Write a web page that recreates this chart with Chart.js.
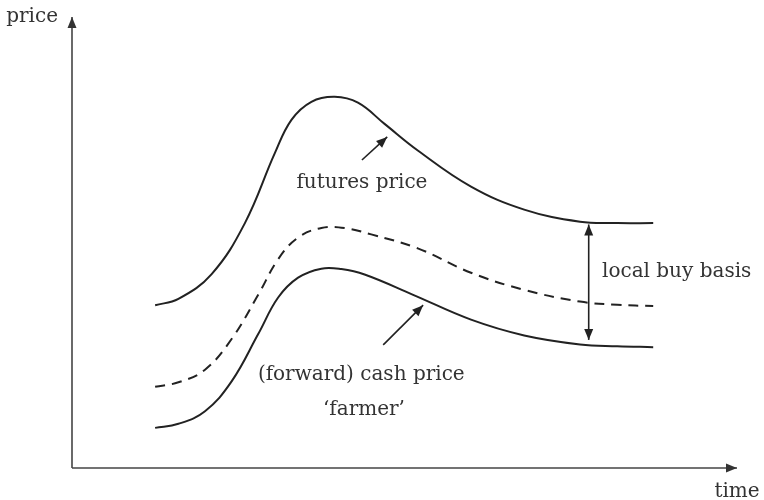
<!DOCTYPE html>
<html>
<head>
<meta charset="utf-8">
<script src="https://cdn.jsdelivr.net/npm/chart.js@4"></script>
<style>
  html, body { margin: 0; padding: 0; background: #ffffff; }
  #wrap { width: 764px; height: 500px; }
</style>
</head>
<body>
<div id="wrap"><canvas id="basisChart" width="764" height="500"></canvas></div>
<script>
// values (time and price in arbitrary units, 0-100)
const futuresTime  = [12.5, 16.0, 21.0, 26.0, 30.5, 33.0, 36.0, 39.5, 43.0, 47.0, 52.0, 60.0, 68.0, 76.4, 82.0, 87.4];
const futuresPrice = [36.1, 37.5, 43.0, 54.3, 69.8, 77.2, 81.2, 82.3, 81.0, 76.3, 70.4, 62.4, 57.3, 54.6, 54.3, 54.3];

const midTime  = [12.5, 16.0, 20.0, 24.0, 28.0, 31.0, 34.0, 37.5, 41.0, 45.0, 52.0, 60.0, 68.0, 76.4, 82.0, 87.4];
const midPrice = [18.0, 19.0, 21.8, 28.6, 38.4, 46.3, 51.1, 53.2, 53.2, 51.8, 48.7, 43.3, 39.5, 36.9, 36.2, 35.9];

const cashTime  = [12.5, 16.0, 20.0, 24.0, 28.0, 31.0, 34.0, 37.5, 40.5, 44.0, 51.3, 60.0, 68.0, 76.4, 82.0, 87.4];
const cashPrice = [8.9, 9.8, 12.6, 19.2, 29.7, 37.8, 42.2, 44.2, 44.1, 42.9, 38.4, 32.9, 29.4, 27.4, 27.0, 26.8];

const axisLabels = ['price', 'time'];
const notes = ['futures price', 'local buy basis', '(forward) cash price', '\u2018farmer\u2019'];

const INK = '#222222';
const TEXT = '#333333';
const FONT = '20px "DejaVu Serif", serif';

function toPoints(xs, ys) {
    return xs.map((x, i) => ({ x: x, y: ys[i] }));
}

function arrowHead(ctx, fromX, fromY, toX, toY) {
    const ang = Math.atan2(toY - fromY, toX - fromX);
    const len = 11, half = 4.5;
    ctx.beginPath();
    ctx.moveTo(toX, toY);
    ctx.lineTo(toX - len * Math.cos(ang) + half * Math.sin(ang), toY - len * Math.sin(ang) - half * Math.cos(ang));
    ctx.lineTo(toX - len * Math.cos(ang) - half * Math.sin(ang), toY - len * Math.sin(ang) + half * Math.cos(ang));
    ctx.closePath();
    ctx.fill();
}

function arrow(ctx, x1, y1, x2, y2, both) {
    ctx.beginPath();
    ctx.moveTo(x1, y1);
    ctx.lineTo(x2, y2);
    ctx.stroke();
    arrowHead(ctx, x1, y1, x2, y2);
    if (both) arrowHead(ctx, x2, y2, x1, y1);
}

const sketchPlugin = {
    id: 'sketchNotes',
    afterDatasetsDraw(chart) {
        const ctx = chart.ctx;
        const area = chart.chartArea;
        const xs = chart.scales.x, ys = chart.scales.y;
        const px = v => xs.getPixelForValue(v);
        const py = v => ys.getPixelForValue(v);

        ctx.save();
        // axes
        ctx.strokeStyle = '#444444';
        ctx.fillStyle = '#333333';
        ctx.lineWidth = 1.6;
        arrow(ctx, area.left, area.bottom, area.left, area.top, false);
        arrow(ctx, area.left, area.bottom, area.right, area.bottom, false);

        ctx.font = FONT;
        ctx.fillStyle = TEXT;
        ctx.textBaseline = 'middle';
        ctx.textAlign = 'right';
        ctx.fillText(axisLabels[0], area.left - 14, area.top);
        ctx.textAlign = 'center';
        ctx.fillText(axisLabels[1], area.right, area.bottom + 24);

        // annotation arrows
        ctx.strokeStyle = INK;
        ctx.fillStyle = INK;
        ctx.lineWidth = 1.6;
        arrow(ctx, px(43.6), py(68.3), px(47.4), py(73.4), false);
        arrow(ctx, px(46.8), py(27.3), px(52.8), py(36.1), false);
        arrow(ctx, px(77.7), py(54.0), px(77.7), py(28.4), true);

        // annotation text
        ctx.fillStyle = TEXT;
        ctx.textAlign = 'center';
        ctx.fillText(notes[0], px(43.6), py(63.2));
        ctx.fillText(notes[2], px(43.5), py(20.6));
        ctx.fillText(notes[3], px(43.9), py(12.9));
        ctx.textAlign = 'left';
        ctx.fillText(notes[1], px(79.7), py(43.5));
        ctx.restore();
    }
};

const lineStyle = {
    borderColor: INK,
    borderWidth: 2,
    pointRadius: 0,
    fill: false,
    tension: 0.4
};

new Chart(document.getElementById('basisChart'), {
    type: 'line',
    data: {
        datasets: [
            Object.assign({ label: 'futures', data: toPoints(futuresTime, futuresPrice) }, lineStyle),
            Object.assign({ label: 'basis mid', data: toPoints(midTime, midPrice), borderDash: [10, 7] }, lineStyle),
            Object.assign({ label: 'cash', data: toPoints(cashTime, cashPrice) }, lineStyle)
        ]
    },
    options: {
        responsive: false,
        animation: false,
        layout: { padding: { left: 72, right: 27, top: 17, bottom: 32 } },
        plugins: {
            legend: { display: false },
            tooltip: { enabled: false }
        },
        scales: {
            x: { type: 'linear', min: 0, max: 100, display: false },
            y: { type: 'linear', min: 0, max: 100, display: false }
        }
    },
    plugins: [sketchPlugin]
});
</script>
</body>
</html>
